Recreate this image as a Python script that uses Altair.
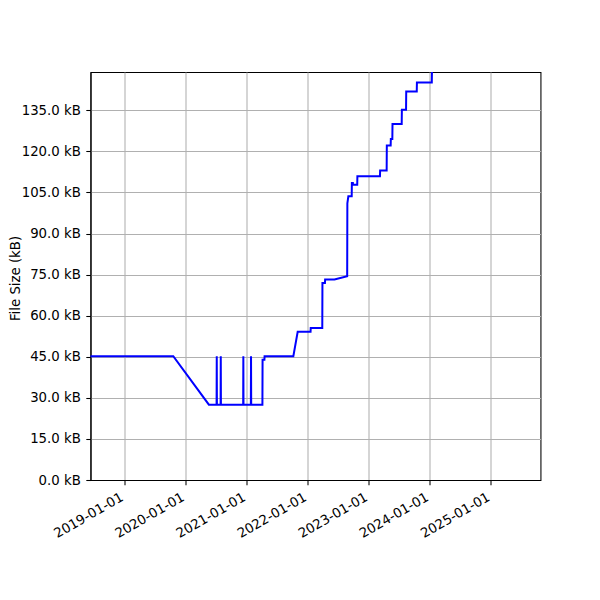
import altair as alt
import pandas as pd

dates = [
    "2018-06-01", "2019-10-21", "2020-05-21",
    "2020-07-06", "2020-07-07", "2020-07-08",
    "2020-07-30", "2020-07-31", "2020-08-01",
    "2020-12-12", "2020-12-13", "2020-12-14",
    "2021-01-27", "2021-01-28", "2021-01-29",
    "2021-04-06", "2021-04-07", "2021-04-18", "2021-04-19",
    "2021-10-08", "2021-11-03", "2022-01-19", "2022-01-20",
    "2022-03-30", "2022-03-31", "2022-04-15", "2022-04-16",
    "2022-06-11", "2022-08-26", "2022-08-27", "2022-09-02",
    "2022-09-22", "2022-09-23", "2022-09-29", "2022-09-30",
    "2022-10-25", "2022-10-26", "2023-03-10", "2023-03-11",
    "2023-04-19", "2023-04-20", "2023-05-13", "2023-05-14",
    "2023-05-23", "2023-05-24", "2023-07-18", "2023-07-19",
    "2023-08-13", "2023-08-14", "2023-10-16", "2023-10-17",
    "2024-01-14", "2024-01-16",
]
sizes_kb = [
    45.2, 45.2, 27.5,
    27.5, 45.2, 27.5,
    27.5, 45.2, 27.5,
    27.5, 45.2, 27.5,
    27.5, 45.2, 27.5,
    27.5, 43.9, 43.9, 45.2,
    45.2, 54.1, 54.1, 55.5,
    55.5, 71.9, 71.9, 73.2,
    73.2, 74.4, 101.0, 103.6,
    103.6, 108.5, 108.5, 107.8,
    107.8, 110.9, 110.9, 113.0,
    113.0, 122.2, 122.2, 124.5,
    124.5, 130.0, 130.0, 135.2,
    135.2, 141.9, 141.9, 145.2,
    145.2, 155.0,
]
tick_years = [2019, 2020, 2021, 2022, 2023, 2024, 2025]
y_ticks = [0, 15, 30, 45, 60, 75, 90, 105, 120, 135]

df = pd.DataFrame({"date": dates, "size": sizes_kb, "i": list(range(len(dates)))})

FONT = "DejaVu Sans"

chart = alt.Chart(df).mark_line(color="#0000ff", strokeWidth=2, clip=True).encode(
    x=alt.X(
        "date:T",
        scale=alt.Scale(
            type="utc",
            domain=[
                alt.DateTime(year=2018, month=6, date=13, utc=True),
                alt.DateTime(year=2025, month=10, date=25, utc=True),
            ],
        ),
        axis=alt.Axis(
            values=[alt.DateTime(year=y, month=1, date=1, utc=True) for y in tick_years],
            labelExpr="utcFormat(datum.value, '%Y-%m-%d')",
            labelAngle=330,
            labelAlign="right",
            labelBaseline="top",
            labelPadding=5,
            labelOffset=-6,
            labelOverlap=False,
            title=None,
        ),
    ),
    y=alt.Y(
        "size:Q",
        scale=alt.Scale(domain=[0, 149], nice=False, zero=True),
        axis=alt.Axis(
            values=y_ticks,
            labelExpr="format(datum.value, '.1f') + ' kB'",
            labelOverlap=False,
            labelPadding=5.5,
            title="File Size (kB)",
            titleX=-82,
            titleY=206,
            titleAngle=270,
            titleAlign="center",
            titleBaseline="top",
        ),
    ),
    order="i:Q",
).properties(
    width=450,
    height=408,
    autosize=alt.AutoSizeParams(type="none"),
    padding={"left": 82.5, "top": 64, "right": 50, "bottom": 110},
).configure_axis(
    labelFont=FONT,
    labelFontSize=13.3,
    labelColor="black",
    titleFont=FONT,
    titleFontSize=13.3,
    titleFontWeight="normal",
    titleColor="black",
    gridColor="#b0b0b0",
    gridWidth=1.07,
    domainColor="black",
    domainWidth=1.07,
    tickColor="black",
    tickWidth=1.07,
    tickSize=4.7,
).configure_view(
    stroke="black",
    strokeWidth=1.07,
)

chart.save("out.html", embed_options={"renderer": "svg", "actions": False})
